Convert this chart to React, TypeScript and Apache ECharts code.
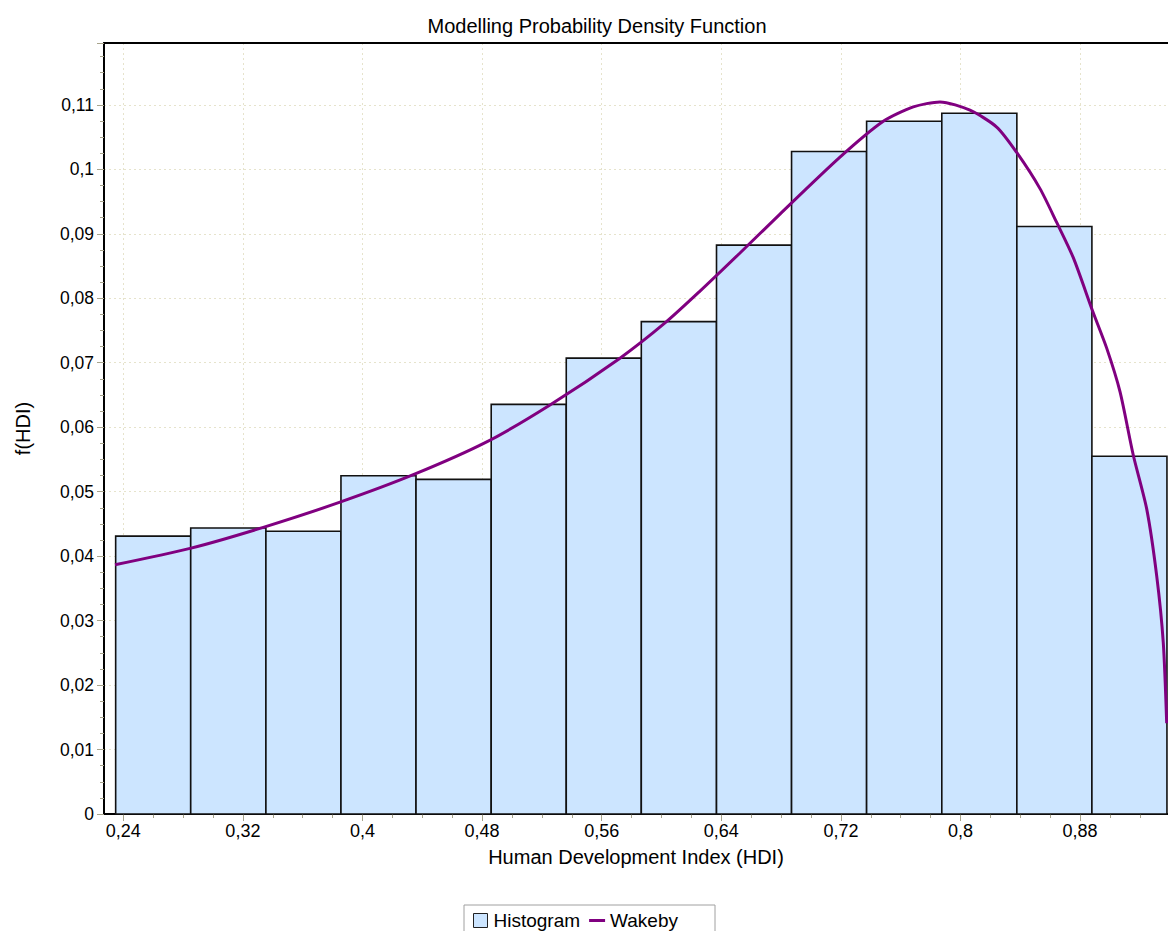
import React, { useEffect, useRef } from "react";
import * as echarts from "echarts";

// Histogram bins of HDI (edges) and their density heights
const binEdges = [
  0.2349, 0.2851, 0.3354, 0.3856, 0.4358, 0.4861, 0.5363, 0.5865, 0.6368,
  0.687, 0.7372, 0.7875, 0.8377, 0.8879, 0.9381,
];
const binHeights = [
  0.0431, 0.04437, 0.04385, 0.05247, 0.05191, 0.06354, 0.07071, 0.07638,
  0.08824, 0.10277, 0.10745, 0.1087, 0.09113, 0.05549,
];

// Fitted Wakeby density curve
const curveX = [
  0.23445, 0.28464, 0.33365, 0.38495, 0.43398, 0.48308, 0.52542, 0.57224,
  0.60234, 0.62575, 0.65251, 0.67926, 0.7194, 0.74836, 0.76843, 0.78629,
  0.80635, 0.82421, 0.83759, 0.85318, 0.86435, 0.87545, 0.88843, 0.89779,
  0.90669, 0.91559, 0.92455, 0.93124, 0.93565, 0.93793,
];
const curveY = [
  0.03866, 0.0412, 0.04447, 0.04837, 0.05263, 0.05772, 0.06345, 0.07071,
  0.07617, 0.08111, 0.08703, 0.09306, 0.10189, 0.10745, 0.10968, 0.11046,
  0.10917, 0.10656, 0.10262, 0.09701, 0.09176, 0.0863, 0.07799, 0.07227,
  0.06552, 0.05565, 0.04733, 0.03694, 0.02655, 0.01408,
];

// Axis ranges and tick values
const xMin = 0.2271;
const xMax = 0.9388;
const yMin = 0;
const yMax = 0.1196;
const xMajorTicks = [0.24, 0.32, 0.4, 0.48, 0.56, 0.64, 0.72, 0.8, 0.88];
const xMinorTicks = [
  0.26, 0.28, 0.3, 0.34, 0.36, 0.38, 0.42, 0.44, 0.46, 0.5, 0.52, 0.54, 0.58,
  0.6, 0.62, 0.66, 0.68, 0.7, 0.74, 0.76, 0.78, 0.82, 0.84, 0.86, 0.9, 0.92,
];

const FONT = "'Liberation Sans', Arial, sans-serif";
const TICK_COLOR = "#a8a48c";
const GRID_COLOR = "#e6e3cc";

const fmt = (v: number) => String(+v.toFixed(4)).replace(".", ",");

export default function App() {
  const ref = useRef<HTMLDivElement>(null);

  useEffect(() => {
    if (!ref.current) return;
    const chart = echarts.init(ref.current, undefined, { renderer: "svg" });

    const histData = binHeights.map((h, i) => [binEdges[i], binEdges[i + 1], h]);
    const curveData = curveX.map((x, i) => [x, curveY[i]]);

    chart.setOption({
      animation: false,
      backgroundColor: "#ffffff",
      textStyle: { fontFamily: FONT },
      title: {
        text: "Modelling Probability Density Function",
        left: 592,
        top: 11,
        textAlign: "center",
        textStyle: { fontFamily: FONT, fontSize: 20, fontWeight: "normal", color: "#000" },
      },
      legend: {
        left: 464,
        top: 905,
        padding: [6, 37, 6, 9],
        borderColor: "#a0a0a0",
        borderWidth: 1,
        itemWidth: 16,
        itemHeight: 14,
        itemGap: 9,
        textStyle: { fontFamily: FONT, fontSize: 19, color: "#000" },
        data: [
          {
            name: "Histogram",
            icon: "path://M0,0L10,0L10,10L0,10Z",
            itemStyle: { color: "#cce5ff", borderColor: "#222", borderWidth: 1 },
          },
          {
            name: "Wakeby",
            icon: "path://M0,0L16,0L16,3L0,3Z",
            itemStyle: { color: "#800080", borderWidth: 0 },
          },
        ],
      },
      grid: { left: 104, right: 0, top: 43, bottom: 117, containLabel: false },
      xAxis: [
        {
          type: "value",
          position: "bottom",
          min: xMin,
          max: xMax,
          name: "Human Development Index (HDI)",
          nameLocation: "middle",
          nameGap: 33,
          nameTextStyle: { fontFamily: FONT, fontSize: 20, color: "#000" },
          axisLine: { show: true, onZero: false, lineStyle: { color: "#000", width: 2 } },
          axisTick: {
            show: true,
            customValues: xMajorTicks,
            length: 7,
            lineStyle: { color: TICK_COLOR, width: 1 },
          },
          axisLabel: {
            customValues: xMajorTicks,
            formatter: (v: number) => fmt(v),
            margin: 8,
            fontFamily: FONT,
            fontSize: 18,
            color: "#000",
          },
          splitLine: {
            show: true,
            lineStyle: { color: GRID_COLOR, type: [2, 3], width: 1 },
          },
        },
        {
          type: "value",
          position: "bottom",
          min: xMin,
          max: xMax,
          axisLine: { show: false },
          axisTick: {
            show: true,
            customValues: xMinorTicks,
            length: 4,
            lineStyle: { color: TICK_COLOR, width: 1 },
          },
          axisLabel: { show: false },
          splitLine: { show: false },
        },
        {
          type: "value",
          position: "top",
          min: xMin,
          max: xMax,
          axisLine: { show: true, lineStyle: { color: "#000", width: 2 } },
          axisTick: { show: false },
          axisLabel: { show: false },
          splitLine: { show: false },
        },
      ],
      yAxis: {
        type: "value",
        min: yMin,
        max: yMax,
        interval: 0.01,
        name: "f(HDI)",
        nameLocation: "middle",
        nameGap: 71,
        nameTextStyle: { fontFamily: FONT, fontSize: 20, color: "#000" },
        axisLine: { show: true, lineStyle: { color: "#000", width: 2 } },
        axisTick: { show: true, length: 7, lineStyle: { color: TICK_COLOR, width: 1 } },
        minorTick: { show: true, splitNumber: 4, length: 4, lineStyle: { color: TICK_COLOR, width: 1 } },
        axisLabel: {
          margin: 10,
          fontFamily: FONT,
          fontSize: 17.5,
          color: "#000",
          showMaxLabel: false,
          formatter: (v: number) => {
            const k = Math.round(v / 0.01);
            return Math.abs(v - k * 0.01) < 1e-6 ? fmt(v) : "";
          },
        },
        splitLine: {
          show: true,
          lineStyle: { color: GRID_COLOR, type: [2, 3], width: 1 },
        },
      },
      series: [
        {
          name: "Histogram",
          type: "custom",
          xAxisIndex: 0,
          yAxisIndex: 0,
          encode: { x: [0, 1], y: 2 },
          itemStyle: { color: "#cce5ff", borderColor: "#222", borderWidth: 1 },
          renderItem: (_params: any, api: any) => {
            const top = api.coord([api.value(0), api.value(2)]);
            const bottom = api.coord([api.value(1), 0]);
            return {
              type: "rect",
              shape: {
                x: top[0],
                y: top[1],
                width: bottom[0] - top[0],
                height: bottom[1] - top[1],
              },
              style: { fill: "#cce5ff", stroke: "#111", lineWidth: 1.6 },
            };
          },
          data: histData,
          z: 2,
        },
        {
          name: "Wakeby",
          type: "line",
          xAxisIndex: 0,
          yAxisIndex: 0,
          data: curveData,
          showSymbol: false,
          symbol: "none",
          smooth: 0.25,
          lineStyle: { color: "#800080", width: 3 },
          itemStyle: { color: "#800080" },
          z: 3,
        },
      ],
    });

    return () => chart.dispose();
  }, []);

  return (
    <div
      ref={ref}
      style={{ position: "fixed", left: 0, top: 0, width: 1168, height: 931 }}
    />
  );
}
